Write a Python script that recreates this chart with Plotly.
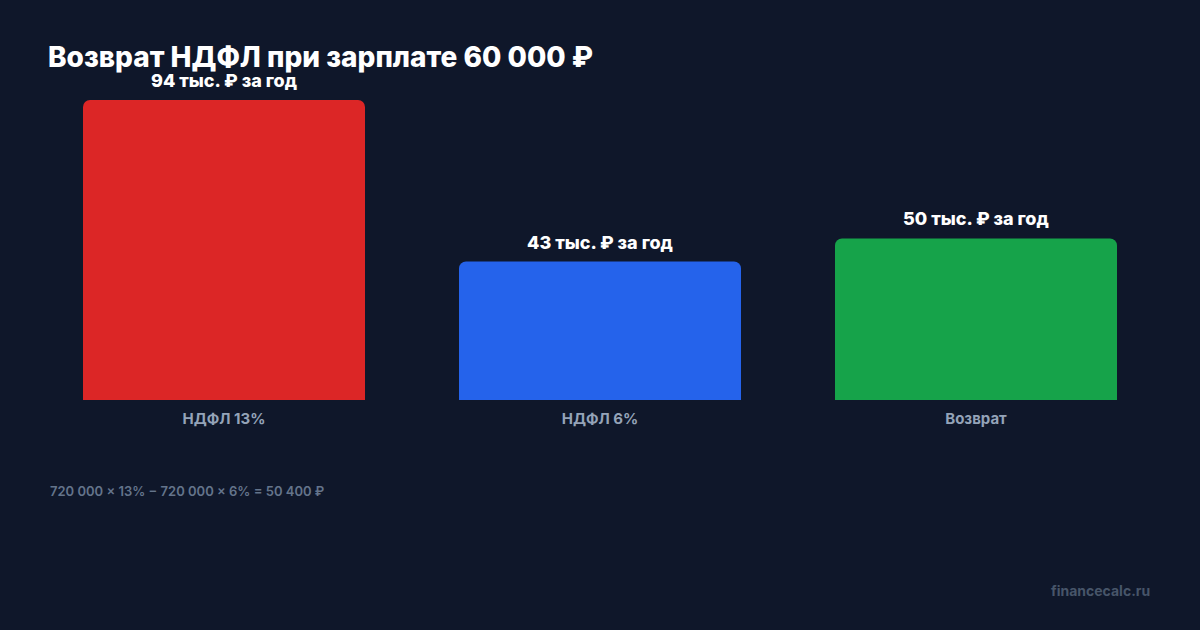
import plotly.graph_objects as go

categories = ["НДФЛ 13%", "НДФЛ 6%", "Возврат"]
values = [93.6, 43.2, 50.4]  # тыс. ₽ за год
colors = ["#dc2626", "#2563eb", "#16a34a"]
labels = [f"{round(v)} тыс. ₽ за год" for v in values]

title = "Возврат НДФЛ при зарплате 60 000 ₽"
footnote = "720 000 × 13% − 720 000 × 6% = 50 400 ₽"
watermark = "financecalc.ru"

BG = "#0f172a"
FONT = "Inter, Roboto, sans-serif"

fig = go.Figure()
fig.add_trace(go.Bar(
    x=categories, y=values, marker=dict(color=colors, line=dict(width=0)),
    width=0.75, hoverinfo="skip",
))

for c, v, t in zip(categories, values, labels):
    fig.add_annotation(x=c, y=v, text=t, showarrow=False,
                       yanchor="bottom", yshift=7,
                       font=dict(family=FONT, size=18, color="#ffffff", weight=800))

fig.add_annotation(xref="paper", yref="paper", x=(48 - 36) / 1128, y=-(491 - 400) / 320,
                   xanchor="left", yanchor="middle", showarrow=False,
                   text=footnote, font=dict(family=FONT, size=13, color="#64748b", weight=600))
fig.add_annotation(xref="paper", yref="paper", x=(1152 - 36) / 1128, y=-(590 - 400) / 320,
                   xanchor="right", yanchor="middle", showarrow=False,
                   text=watermark, font=dict(family=FONT, size=14, color="#475569", weight=700))

fig.update_layout(
    width=1200, height=630,
    paper_bgcolor=BG, plot_bgcolor=BG,
    margin=dict(l=36, r=36, t=80, b=230),
    barcornerradius=7,
    showlegend=False,
    title=dict(text=title, x=48 / 1200, xanchor="left",
               y=1 - 57 / 630, yanchor="middle", yref="container",
               font=dict(family=FONT, size=28, color="#ffffff", weight=800)),
    xaxis=dict(showgrid=False, zeroline=False, showline=False, ticks="",
               ticklabelstandoff=8,
               tickfont=dict(family=FONT, size=15, color="#94a3b8", weight=700)),
    yaxis=dict(range=[0, 99.84], visible=False, showgrid=False, zeroline=False),
)

fig.write_html("out.html")
